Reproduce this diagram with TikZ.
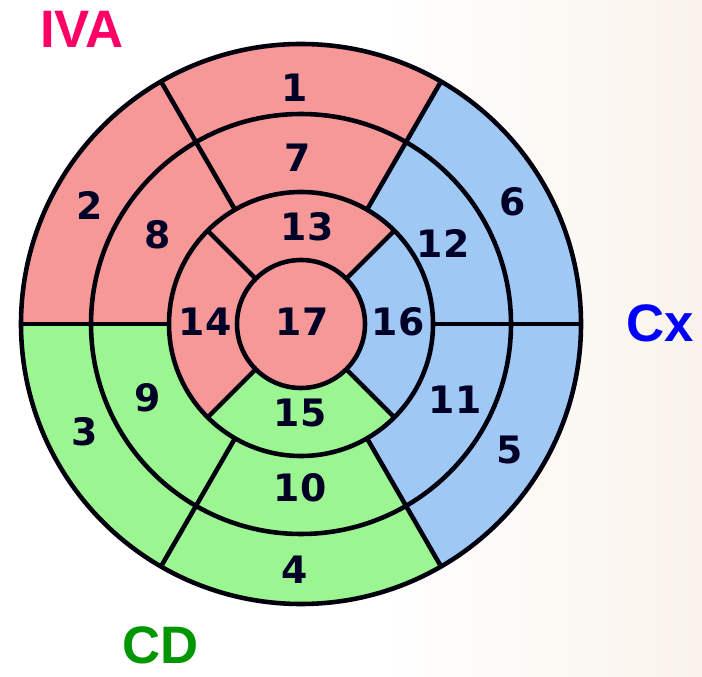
\documentclass[tikz,border=0pt]{standalone}
\usepackage{fontspec}
\setmainfont{DejaVu Sans}
\newfontfamily\arteryfont{Liberation Sans}
\usepackage{tikz}

\definecolor{ivared}{RGB}{246,152,152}
\definecolor{cxblue}{RGB}{160,200,245}
\definecolor{cdgreen}{RGB}{155,245,145}
\definecolor{ivatext}{RGB}{255,0,102}
\definecolor{cxtext}{RGB}{0,0,250}
\definecolor{cdtext}{RGB}{0,150,0}
\definecolor{slidebg}{RGB}{249,243,235}

\begin{document}
\begin{tikzpicture}[x=0.02cm, y=0.02cm,
  seg/.style={font=\fontsize{21.5}{24}\selectfont\bfseries, text=black!85!blue},
  artery/.style={font=\arteryfont\fontsize{30}{34}\selectfont\bfseries, inner sep=0pt},
  edge/.style={line width=2.6pt, draw=black!95!blue}]
\useasboundingbox (0,0) rectangle (702,676);
\fill[white] (0,0) rectangle (702,676);
\shade[left color=white, right color=slidebg] (380,0) rectangle (702,676);

\begin{scope}[shift={(301,352)}]
% basal + mid rings
\foreach \a/\col in {0/cxblue,60/ivared,120/ivared,180/cdgreen,240/cdgreen,300/cxblue}
  \fill[\col] (\a:132) arc[start angle=\a, delta angle=60, radius=132]
    -- ({\a+60}:280) arc[start angle={\a+60}, delta angle=-60, radius=280] -- cycle;
% apical ring
\foreach \a/\col in {45/ivared,135/ivared,225/cdgreen,315/cxblue}
  \fill[\col] (\a:64) arc[start angle=\a, delta angle=90, radius=64]
    -- ({\a+90}:132) arc[start angle={\a+90}, delta angle=-90, radius=132] -- cycle;
\fill[ivared] (0,0) circle (64);
% borders
\foreach \r in {64,132,210,280}
  \draw[edge] (0,0) circle (\r);
\foreach \a in {0,60,...,300}
  \draw[edge] (\a:132) -- (\a:280);
\foreach \a in {45,135,225,315}
  \draw[edge] (\a:64) -- (\a:132);
\end{scope}

% segment numbers
\node[seg] (s1)  at (295,588) {1};
\node[seg] (s2)  at (90,471)  {2};
\node[seg] (s3)  at (85,244)  {3};
\node[seg] (s4)  at (295,106) {4};
\node[seg] (s5)  at (510,226) {5};
\node[seg] (s6)  at (513,474) {6};
\node[seg] (s7)  at (298,518) {7};
\node[seg] (s8)  at (158,441) {8};
\node[seg] (s9)  at (148,278) {9};
\node[seg] (s10) at (300,188) {10};
\node[seg] (s11) at (455,276) {11};
\node[seg] (s12) at (443,433) {12};
\node[seg] (s13) at (307,449) {13};
\node[seg] (s14) at (205,354) {14};
\node[seg] (s15) at (300,263) {15};
\node[seg] (s16) at (398,354) {16};
\node[seg] (s17) at (302,354) {17};

% territories
\node[artery, text=ivatext] (iva) at (82,647) {IVA};
\node[artery, text=cxtext]  (cx)  at (660,353) {Cx};
\node[artery, text=cdtext]  (cd)  at (161,31)  {CD};
\end{tikzpicture}
\end{document}
